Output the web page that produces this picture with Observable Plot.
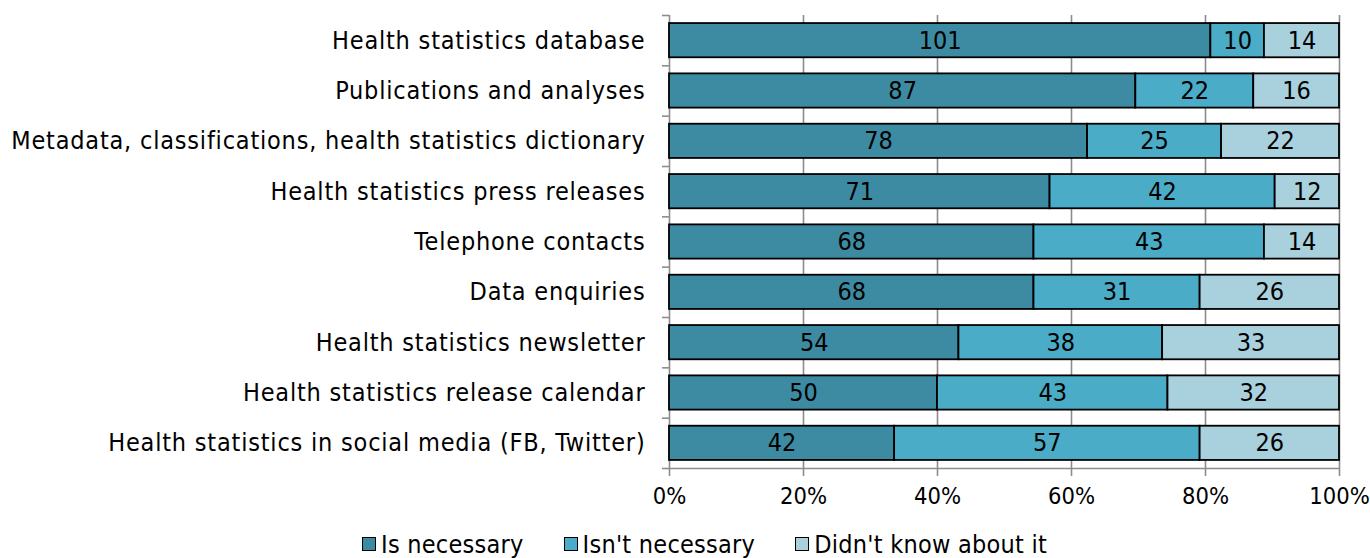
<!DOCTYPE html>
<html>
<head>
<meta charset="utf-8">
<script src="https://cdn.jsdelivr.net/npm/d3@7"></script>
<script src="https://cdn.jsdelivr.net/npm/@observablehq/plot@0.6"></script>
<style>
  body { margin: 0; background: #fff; font-family: "DejaVu Sans Condensed", "DejaVu Sans", sans-serif; }
  #legend { display: flex; align-items: center; height: 28px; padding-left: 362px; font-size: 25px; letter-spacing: 0.25px; color: #000; }
  #legend .item { display: flex; align-items: center; margin-right: 40px; }
  #legend .sw { width: 12px; height: 12px; border: 1px solid #000; margin-right: 5px; }
</style>
</head>
<body>
<div id="chart"></div>
<div id="legend"></div>
<script>
const categories = [
  "Health statistics database",
  "Publications and analyses",
  "Metadata, classifications, health statistics dictionary",
  "Health statistics press releases",
  "Telephone contacts",
  "Data enquiries",
  "Health statistics newsletter",
  "Health statistics release calendar",
  "Health statistics in social media (FB, Twitter)"
];
const seriesNames = ["Is necessary", "Isn't necessary", "Didn't know about it"];
const isNecessary   = [101, 87, 78, 71, 68, 68, 54, 50, 42];
const isntNecessary = [10, 22, 25, 42, 43, 31, 38, 43, 57];
const didntKnow     = [14, 16, 22, 12, 14, 26, 33, 32, 26];
const colors = ["#3c8ba3", "#4aacc6", "#a8d0dd"];
const xTicks = [0, 0.2, 0.4, 0.6, 0.8, 1];

const seriesValues = [isNecessary, isntNecessary, didntKnow];
const rows = [];
categories.forEach((c, i) => {
  seriesNames.forEach((s, j) => {
    rows.push({category: c, idx: i, series: s, value: seriesValues[j][i]});
  });
});
const cats = categories.map((c, i) => ({category: c, idx: i}));
const pad = 0.16;
const fs = 25;

const chart = Plot.plot({
  width: 1370,
  height: 530,
  marginLeft: 669,
  marginRight: 31,
  marginTop: 15,
  marginBottom: 62,
  style: {fontFamily: '"DejaVu Sans Condensed", "DejaVu Sans", sans-serif', fontSize: fs + "px", color: "#000", background: "#fff"},
  x: {domain: [0, 1]},
  y: {domain: [0, 9], reverse: true},
  color: {domain: seriesNames, range: colors},
  marks: [
    Plot.ruleX(xTicks, {x: d => d, y1: 0, y2: 9, stroke: "#8c8c8c", strokeWidth: 1.6}),
    Plot.ruleY([9], {x1: 0, x2: 1, stroke: "#8c8c8c", strokeWidth: 1.6}),
    Plot.axisX({ticks: xTicks, tickFormat: d3.format(".0%"), tickSize: 8, tickPadding: 11, stroke: "#8c8c8c", strokeWidth: 1.6, fill: "#000", fontSize: 23.5, label: null}),
    Plot.axisY({ticks: d3.range(0, 10), tickFormat: () => "", tickSize: 7, stroke: "#8c8c8c", strokeWidth: 1.6, label: null}),
    Plot.rectX(rows, Plot.stackX({
      x: "value", y1: d => d.idx + pad, y2: d => d.idx + 1 - pad, z: "series",
      order: seriesNames, offset: "normalize",
      fill: "series", stroke: "#000", strokeWidth: 1.8
    })),
    Plot.text(rows, Plot.stackX({
      x: "value", y: d => d.idx + 0.5, z: "series",
      order: seriesNames, offset: "normalize",
      text: d => String(d.value), fill: "#000", fontSize: fs
    })),
    Plot.text(cats, {x: () => 0, y: d => d.idx + 0.5, text: "category", textAnchor: "end", dx: -24, fill: "#000", fontSize: fs})
  ]
});
document.getElementById("chart").appendChild(chart);
// category labels letter spacing
chart.querySelectorAll("text").forEach(t => {
  if (categories.includes(t.textContent)) t.style.letterSpacing = "0.8px";
});

const legend = document.getElementById("legend");
seriesNames.forEach((s, j) => {
  const item = document.createElement("div");
  item.className = "item";
  const sw = document.createElement("span");
  sw.className = "sw";
  sw.style.background = colors[j];
  const t = document.createElement("span");
  t.textContent = s;
  item.appendChild(sw);
  item.appendChild(t);
  legend.appendChild(item);
});
</script>
</body>
</html>
